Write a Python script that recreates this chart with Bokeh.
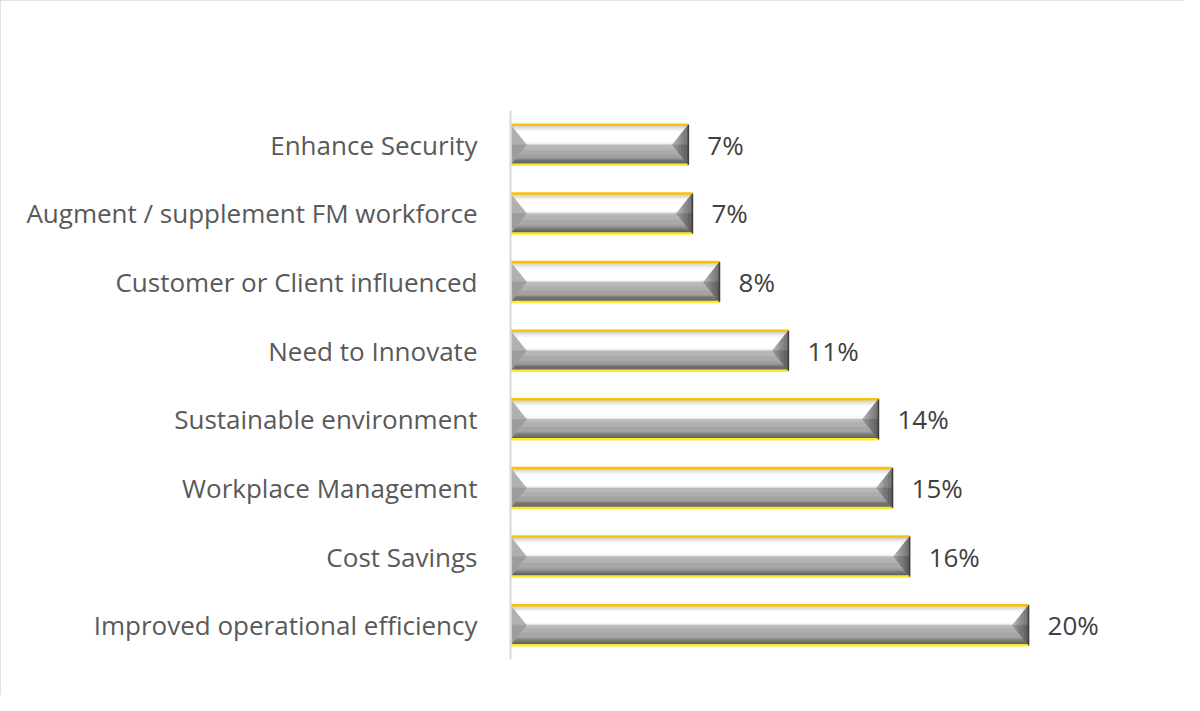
from bokeh.plotting import figure
from bokeh.models import Range1d, FixedTicker
from bokeh.core.properties import value
from bokeh.embed import file_html
from bokeh.resources import INLINE

# ---- data (top to bottom as displayed) ----
categories = [
    "Enhance Security",
    "Augment / supplement FM workforce",
    "Customer or Client influenced",
    "Need to Innovate",
    "Sustainable environment",
    "Workplace Management",
    "Cost Savings",
    "Improved operational efficiency",
]
values = [6.97, 7.13, 8.19, 10.89, 14.42, 14.97, 15.64, 20.3]
value_labels = ["7%", "7%", "8%", "11%", "14%", "15%", "16%", "20%"]

n = len(categories)
ys = [n - 0.5 - i for i in range(n)]

W, H = 1184, 695
LEFT, RIGHT, TOP, BOTTOM = 510, 36, 110, 36
XMAX = 25.0
frame_w = W - LEFT - RIGHT
frame_h = H - TOP - BOTTOM
px_x = frame_w / XMAX
px_y = frame_h / n
hh = 20.0 / px_y      # half bar height in data units
bev = 16.0 / px_x     # bevel width in data units


def hex2rgb(h):
    h = h.lstrip("#")
    return tuple(int(h[i:i + 2], 16) for i in (0, 2, 4))


def grad(stops, t):
    for (t0, c0), (t1, c1) in zip(stops[:-1], stops[1:]):
        if t <= t1:
            f = 0 if t1 == t0 else (t - t0) / (t1 - t0)
            a, b = hex2rgb(c0), hex2rgb(c1)
            return "#%02x%02x%02x" % tuple(int(round(a[k] + (b[k] - a[k]) * f)) for k in range(3))
    return stops[-1][1]


top_stops = [(0, "#c2c2c2"), (0.35, "#ffffff"), (0.88, "#ffffff"), (1.0, "#e8e8e8")]
bot_stops = [(0, "#bdbdbd"), (0.4, "#a8a8a8"), (0.65, "#9c9c9c"), (0.78, "#747474"), (1.0, "#5a5a5a")]
right_top = [(0, "#b8b8b8"), (1.0, "#6a6a6a")]
right_bot = [(0, "#9a9a9a"), (1.0, "#555555")]

xs_all, ys_all, cols = [], [], []
N = 16
for v, c in zip(values, ys):
    x0, x1 = 0.0, v
    yt, ym, yb = c + hh, c, c - hh
    # top facet
    for k in range(N):
        fa, fb = k / N, (k + 1) / N
        ya, yb_ = yt - fa * hh, yt - fb * hh
        ia, ib = bev * fa, bev * fb
        xs_all.append([x0 + ia, x1 - ia, x1 - ib, x0 + ib])
        ys_all.append([ya, ya, yb_, yb_])
        cols.append(grad(top_stops, (fa + fb) / 2))
    # bottom facet
    for k in range(N):
        fa, fb = k / N, (k + 1) / N
        ya, yb_ = ym - fa * hh, ym - fb * hh
        ia, ib = bev * (1 - fa), bev * (1 - fb)
        xs_all.append([x0 + ia, x1 - ia, x1 - ib, x0 + ib])
        ys_all.append([ya, ya, yb_, yb_])
        cols.append(grad(bot_stops, (fa + fb) / 2))
    # left facet (two halves)
    xs_all.append([x0, x0 + bev, x0])
    ys_all.append([yt, ym, ym])
    cols.append("#b0b0b0")
    xs_all.append([x0, x0 + bev, x0])
    ys_all.append([ym, ym, yb])
    cols.append("#9c9c9c")
    # right facet (vertical slices, upper and lower halves)
    M = 10
    for k in range(M):
        fa, fb = k / M, (k + 1) / M
        xa, xb = x1 - bev + fa * bev, x1 - bev + fb * bev
        xs_all.append([xa, xb, xb, xa])
        ys_all.append([ym + fa * hh, ym + fb * hh, ym, ym])
        cols.append(grad(right_top, (fa + fb) / 2))
        xs_all.append([xa, xb, xb, xa])
        ys_all.append([ym, ym, ym - fb * hh, ym - fa * hh])
        cols.append(grad(right_bot, (fa + fb) / 2))

p = figure(width=W, height=H, output_backend="svg", toolbar_location=None,
           x_range=Range1d(0, XMAX), y_range=Range1d(0, n),
           x_axis_location=None,
           min_border_left=LEFT, min_border_right=RIGHT,
           min_border_top=TOP, min_border_bottom=BOTTOM)
p.grid.visible = False
p.outline_line_color = None
p.background_fill_color = "white"
p.border_fill_color = "white"
p.styles = {"outline": "2px solid #d9d9d9", "outline-offset": "-2px"}

p.patches(xs_all, ys_all, fill_color=cols, line_color=cols, line_width=0.6)

# edges
p.segment(x0=[0] * n, y0=[c + hh for c in ys], x1=values, y1=[c + hh for c in ys],
          line_color="#ffc000", line_width=2.5)
p.segment(x0=[0] * n, y0=[c - hh for c in ys], x1=values, y1=[c - hh for c in ys],
          line_color="#ffea2a", line_width=2.5)
p.segment(x0=values, y0=[c - hh for c in ys], x1=values, y1=[c + hh for c in ys],
          line_color="#3f3f3f", line_width=1.5)
p.segment(x0=[0.04] * n, y0=[c - hh for c in ys], x1=[0.04] * n, y1=[c + hh for c in ys],
          line_color="#ffd700", line_width=1)

p.text(x=values, y=ys, text=value_labels, x_offset=19, text_baseline="middle",
       text_align="left", text_font=value("Open Sans"), text_font_size="26px",
       text_color="#404040")

ax = p.yaxis[0]
ax.ticker = FixedTicker(ticks=ys)
ax.major_label_overrides = {y: lab for y, lab in zip(ys, categories)}
ax.axis_line_color = "#d9d9d9"
ax.axis_line_width = 2
ax.major_tick_line_color = None
ax.minor_tick_line_color = None
ax.major_label_standoff = 27
ax.major_label_text_font = "Open Sans"
ax.major_label_text_font_size = "26px"
ax.major_label_text_color = "#595959"

open("out.html", "w").write(file_html(p, INLINE))
